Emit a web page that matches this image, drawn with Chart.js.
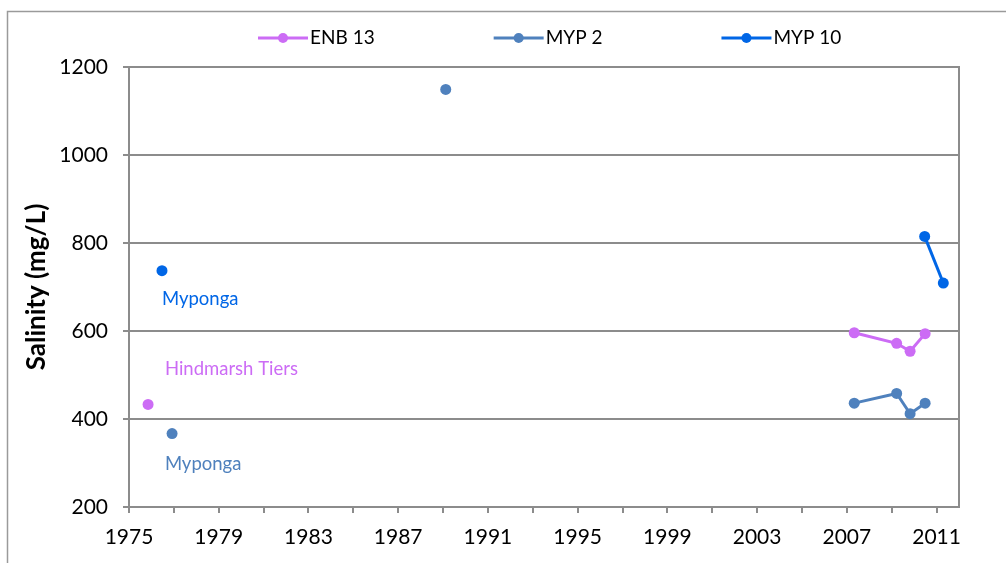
<!DOCTYPE html>
<html>
<head>
<meta charset="utf-8">
<script src="https://cdn.jsdelivr.net/npm/chart.js@4/dist/chart.umd.min.js"></script>
<style>
  html, body { margin: 0; padding: 0; background: #fff; }
  #wrap { width: 1006px; height: 563px; position: relative; }
</style>
</head>
<body>
<div id="wrap"><canvas id="chart"></canvas></div>
<script>
// --- data ---
const seriesNames = ['ENB 13', 'MYP 2', 'MYP 10'];

// null entries break the line (isolated early samples)
const enb13Years  = [1975.85, null, 2007.33, 2009.22, 2009.82, 2010.49];
const enb13Values = [433,     null, 596,     572,     554,     594];

const myp2Years  = [1976.92, null, 1989.12, null, 2007.33, 2009.22, 2009.82, 2010.49];
const myp2Values = [367,     null, 1149,    null, 436,     458,     412,     436];

const myp10Years  = [1976.47, null, 2010.47, 2011.30];
const myp10Values = [737,     null, 815,     709];

const yTicks = [200, 400, 600, 800, 1000, 1200];
const xLabelYears = [1975, 1979, 1983, 1987, 1991, 1995, 1999, 2003, 2007, 2011];

const colors = ['#CC6CF5', '#4F81BD', '#0066E6'];
const FONT = 'Lato, "Open Sans", sans-serif';

function toPoints(xs, ys) {
    return xs.map((x, i) => ({ x: x === null ? (xs[i - 1] + 0.01) : x, y: ys[i] }));
}

const allYears = [enb13Years, myp2Years, myp10Years];
const allValues = [enb13Values, myp2Values, myp10Values];

// --- annotations next to the early samples ---
const notes = [
    { text: 'Myponga',         x: 1976.47, y: 672, color: colors[2] },
    { text: 'Hindmarsh Tiers', x: 1976.6,  y: 513, color: colors[0] },
    { text: 'Myponga',         x: 1976.6,  y: 297, color: colors[1] }
];

const framePlugin = {
    id: 'frame',
    beforeDraw(chart) {
        const ctx = chart.ctx;
        ctx.save();
        ctx.strokeStyle = '#9a9a9a';
        ctx.lineWidth = 1.5;
        ctx.strokeRect(7.5, 11.5, 1200, 700);
        ctx.restore();
    },
    afterDraw(chart) {
        const ctx = chart.ctx;
        const a = chart.chartArea;
        ctx.save();
        ctx.strokeStyle = '#8c8c8c';
        ctx.lineWidth = 2;
        ctx.beginPath();
        ctx.moveTo(a.right, a.top - 1);
        ctx.lineTo(a.right, a.bottom);
        ctx.stroke();
        ctx.restore();
    }
};

const notesPlugin = {
    id: 'notes',
    afterDatasetsDraw(chart) {
        const ctx = chart.ctx;
        const xs = chart.scales.x, ys = chart.scales.y;
        ctx.save();
        ctx.font = '18.5px ' + FONT;
        ctx.textAlign = 'left';
        ctx.textBaseline = 'middle';
        notes.forEach(n => {
            ctx.fillStyle = n.color;
            ctx.fillText(n.text, xs.getPixelForValue(n.x), ys.getPixelForValue(n.y));
        });
        ctx.restore();
    }
};

const legendPlugin = {
    id: 'lineLegend',
    afterDraw(chart) {
        const ctx = chart.ctx;
        ctx.save();
        ctx.font = '19px ' + FONT;
        ctx.textBaseline = 'middle';
        ctx.textAlign = 'left';
        let x = 258;
        const y = 38;
        chart.data.datasets.forEach((ds, i) => {
            ctx.strokeStyle = ds.borderColor;
            ctx.lineWidth = 3;
            ctx.beginPath();
            ctx.moveTo(x, y);
            ctx.lineTo(x + 50, y);
            ctx.stroke();
            ctx.fillStyle = ds.borderColor;
            ctx.beginPath();
            ctx.arc(x + 25, y, 5, 0, Math.PI * 2);
            ctx.fill();
            ctx.fillStyle = '#000';
            ctx.fillText(ds.label, x + 52, y);
            x += 52 + ctx.measureText(ds.label).width + 119;
        });
        ctx.restore();
    }
};

const datasets = seriesNames.map((name, i) => ({
    label: name,
    data: toPoints(allYears[i], allValues[i]),
    borderColor: colors[i],
    backgroundColor: colors[i],
    borderWidth: 3,
    pointRadius: 5.5,
    pointHoverRadius: 5.5,
    pointBorderWidth: 0,
    spanGaps: false,
    tension: 0
}));

new Chart(document.getElementById('chart'), {
    type: 'line',
    data: { datasets },
    plugins: [framePlugin, notesPlugin, legendPlugin],
    options: {
        responsive: true,
        maintainAspectRatio: false,
        animation: false,
        layout: { padding: { left: 0, top: 67, right: 47, bottom: 0 } },
        plugins: {
            legend: { display: false },
            tooltip: { enabled: false }
        },
        scales: {
            x: {
                type: 'linear',
                min: 1975,
                max: 2012,
                afterFit(scale) { scale.height = 56; },
                afterBuildTicks(scale) {
                    const t = [];
                    for (let v = 1975; v <= 2011; v += 2) t.push({ value: v });
                    scale.ticks = t;
                },
                ticks: {
                    autoSkip: false,
                    maxRotation: 0,
                    padding: 12,
                    color: '#000',
                    font: { family: FONT, size: 21 },
                    callback: v => xLabelYears.includes(v) ? String(v) : ''
                },
                grid: {
                    drawOnChartArea: false,
                    drawTicks: true,
                    tickLength: 6,
                    color: '#8c8c8c',
                    lineWidth: 2
                },
                border: { display: true, color: '#8c8c8c', width: 2 }
            },
            y: {
                min: 200,
                max: 1200,
                afterFit(scale) { scale.width = 129; },
                afterBuildTicks(scale) {
                    scale.ticks = yTicks.map(v => ({ value: v }));
                },
                ticks: {
                    padding: 15,
                    color: '#000',
                    font: { family: FONT, size: 21 },
                    callback: v => String(v)
                },
                grid: {
                    color: '#8c8c8c',
                    lineWidth: 2,
                    tickLength: 6
                },
                border: { display: true, color: '#8c8c8c', width: 2 },
                title: {
                    display: true,
                    text: 'Salinity (mg/L)',
                    color: '#000',
                    font: { family: FONT, size: 26, weight: 'bold' },
                    padding: { top: 21, bottom: 0 }
                }
            }
        }
    }
});
</script>
</body>
</html>
